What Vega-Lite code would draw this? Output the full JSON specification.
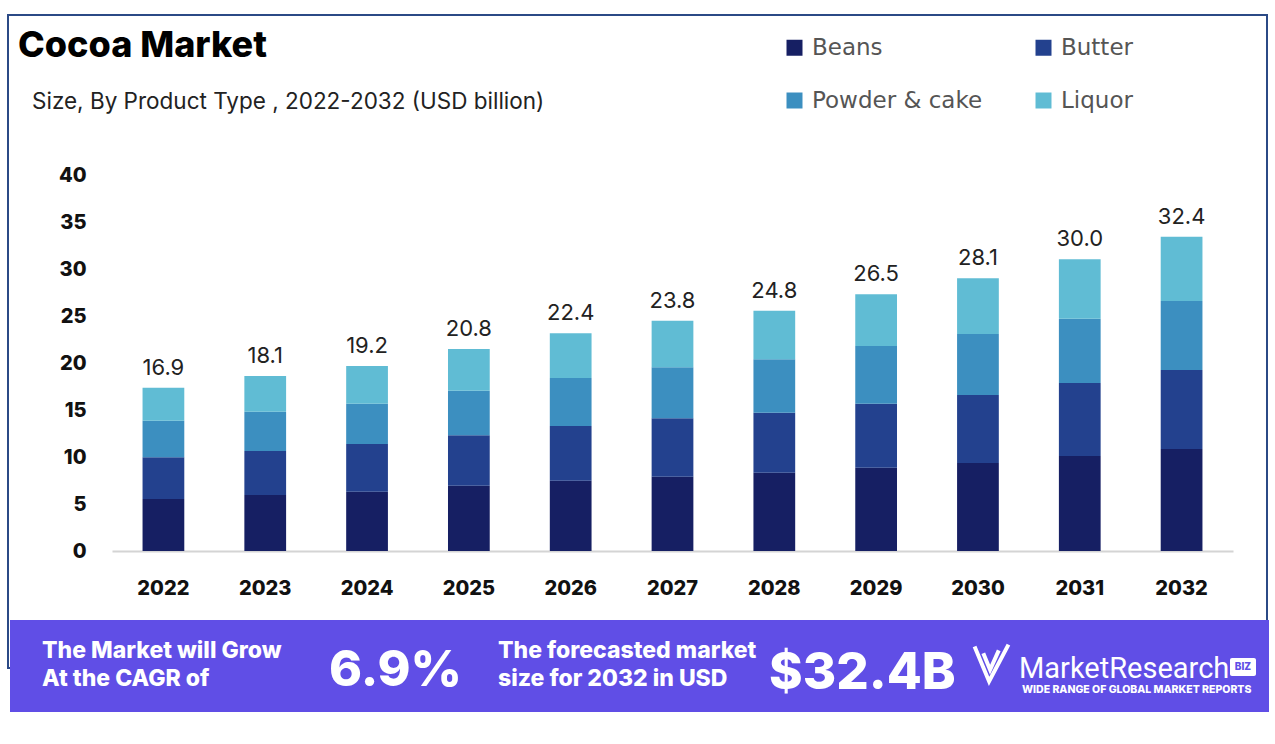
{
  "$schema": "https://vega.github.io/schema/vega-lite/v6.json",
  "autosize": "none",
  "width": 1121,
  "height": 376,
  "padding": {"left": 112, "top": 175, "right": 42, "bottom": 193},
  "background": "white",
  "config": {"view": {"stroke": null}, "font": "Inter"},
  "title": {
    "text": "Cocoa Market",
    "anchor": "start",
    "frame": "group",
    "dx": -94,
    "offset": -51,
    "fontSize": 36,
    "fontWeight": 800,
    "color": "#000000",
    "font": "Inter"
  },
  "datasets": {
    "segments": [
      {"year": "2022", "type": "Beans", "rank": 1, "value": 5.53},
      {"year": "2022", "type": "Butter", "rank": 2, "value": 4.44},
      {"year": "2022", "type": "Powder & cake", "rank": 3, "value": 3.89},
      {"year": "2022", "type": "Liquor", "rank": 4, "value": 3.51},
      {"year": "2023", "type": "Beans", "rank": 1, "value": 5.96},
      {"year": "2023", "type": "Butter", "rank": 2, "value": 4.68},
      {"year": "2023", "type": "Powder & cake", "rank": 3, "value": 4.18},
      {"year": "2023", "type": "Liquor", "rank": 4, "value": 3.80},
      {"year": "2024", "type": "Beans", "rank": 1, "value": 6.31},
      {"year": "2024", "type": "Butter", "rank": 2, "value": 5.07},
      {"year": "2024", "type": "Powder & cake", "rank": 3, "value": 4.29},
      {"year": "2024", "type": "Liquor", "rank": 4, "value": 4.01},
      {"year": "2025", "type": "Beans", "rank": 1, "value": 6.95},
      {"year": "2025", "type": "Butter", "rank": 2, "value": 5.36},
      {"year": "2025", "type": "Powder & cake", "rank": 3, "value": 4.74},
      {"year": "2025", "type": "Liquor", "rank": 4, "value": 4.44},
      {"year": "2026", "type": "Beans", "rank": 1, "value": 7.48},
      {"year": "2026", "type": "Butter", "rank": 2, "value": 5.82},
      {"year": "2026", "type": "Powder & cake", "rank": 3, "value": 5.11},
      {"year": "2026", "type": "Liquor", "rank": 4, "value": 4.76},
      {"year": "2027", "type": "Beans", "rank": 1, "value": 7.90},
      {"year": "2027", "type": "Butter", "rank": 2, "value": 6.21},
      {"year": "2027", "type": "Powder & cake", "rank": 3, "value": 5.43},
      {"year": "2027", "type": "Liquor", "rank": 4, "value": 4.96},
      {"year": "2028", "type": "Beans", "rank": 1, "value": 8.33},
      {"year": "2028", "type": "Butter", "rank": 2, "value": 6.38},
      {"year": "2028", "type": "Powder & cake", "rank": 3, "value": 5.68},
      {"year": "2028", "type": "Liquor", "rank": 4, "value": 5.17},
      {"year": "2029", "type": "Beans", "rank": 1, "value": 8.86},
      {"year": "2029", "type": "Butter", "rank": 2, "value": 6.81},
      {"year": "2029", "type": "Powder & cake", "rank": 3, "value": 6.14},
      {"year": "2029", "type": "Liquor", "rank": 4, "value": 5.50},
      {"year": "2030", "type": "Beans", "rank": 1, "value": 9.36},
      {"year": "2030", "type": "Butter", "rank": 2, "value": 7.23},
      {"year": "2030", "type": "Powder & cake", "rank": 3, "value": 6.49},
      {"year": "2030", "type": "Liquor", "rank": 4, "value": 5.93},
      {"year": "2031", "type": "Beans", "rank": 1, "value": 10.10},
      {"year": "2031", "type": "Butter", "rank": 2, "value": 7.77},
      {"year": "2031", "type": "Powder & cake", "rank": 3, "value": 6.84},
      {"year": "2031", "type": "Liquor", "rank": 4, "value": 6.32},
      {"year": "2032", "type": "Beans", "rank": 1, "value": 10.85},
      {"year": "2032", "type": "Butter", "rank": 2, "value": 8.40},
      {"year": "2032", "type": "Powder & cake", "rank": 3, "value": 7.34},
      {"year": "2032", "type": "Liquor", "rank": 4, "value": 6.84}
    ],
    "totals": [
      {"year": "2022", "label": 16.9},
      {"year": "2023", "label": 18.1},
      {"year": "2024", "label": 19.2},
      {"year": "2025", "label": 20.8},
      {"year": "2026", "label": 22.4},
      {"year": "2027", "label": 23.8},
      {"year": "2028", "label": 24.8},
      {"year": "2029", "label": 26.5},
      {"year": "2030", "label": 28.1},
      {"year": "2031", "label": 30.0},
      {"year": "2032", "label": 32.4}
    ]
  },
  "layer": [
    {
      "data": {"values": [{}]},
      "mark": {"type": "rect", "fill": null, "stroke": "#2b4a86", "strokeWidth": 2},
      "encoding": {
        "x": {"value": -104},
        "x2": {"value": 1155},
        "y": {"value": -160},
        "y2": {"value": 493}
      }
    },
    {
      "data": {"values": [{}]},
      "mark": {"type": "text", "text": "Size, By Product Type , 2022-2032 (USD billion)", "align": "left", "baseline": "alphabetic", "fontSize": 22.5, "font": "Inter", "color": "#222222"},
      "encoding": {"x": {"value": -80}, "y": {"value": -66}}
    },
    {
      "data": {"name": "segments"},
      "mark": {"type": "bar"},
      "encoding": {
        "x": {
          "field": "year",
          "type": "nominal",
          "scale": {"paddingInner": 0.59, "paddingOuter": 0.3},
          "axis": {
            "title": null,
            "labelAngle": 0,
            "labelFont": "Inter",
            "labelFontSize": 20,
            "labelFontWeight": 800,
            "labelColor": "#111111",
            "labelPadding": 27,
            "ticks": false,
            "domainColor": "#d4d4d4",
            "domainWidth": 2
          }
        },
        "y": {
          "field": "value",
          "type": "quantitative",
          "stack": "zero",
          "scale": {"domain": [0, 40], "nice": false},
          "axis": {
            "title": null,
            "values": [0, 5, 10, 15, 20, 25, 30, 35, 40],
            "labelFont": "Inter",
            "labelFontSize": 20,
            "labelFontWeight": 800,
            "labelColor": "#111111",
            "labelPadding": 26,
            "ticks": false,
            "domain": false,
            "grid": false
          }
        },
        "order": {"field": "rank", "type": "quantitative", "sort": "ascending"},
        "color": {
          "field": "type",
          "type": "nominal",
          "scale": {
            "domain": ["Beans", "Butter", "Powder & cake", "Liquor"],
            "range": ["#161f63", "#23418e", "#3c8fc0", "#60bcd4"]
          },
          "legend": {
            "title": null,
            "orient": "none",
            "legendX": 671,
            "legendY": -139,
            "direction": "horizontal",
            "columns": 2,
            "columnPadding": 49,
            "rowPadding": 29,
            "symbolType": "square",
            "symbolSize": 256,
            "symbolStrokeWidth": 0,
            "labelFont": "DejaVu Sans",
            "labelFontSize": 23,
            "labelColor": "#555555",
            "labelOffset": 6,
            "labelLimit": 400
          }
        }
      }
    },
    {
      "data": {"name": "segments"},
      "transform": [
        {"aggregate": [{"op": "sum", "field": "value", "as": "top"}], "groupby": ["year"]},
        {"lookup": "year", "from": {"data": {"name": "totals"}, "key": "year", "fields": ["label"]}}
      ],
      "mark": {"type": "text", "baseline": "alphabetic", "dy": -13, "fontSize": 22, "font": "Inter", "color": "#222222"},
      "encoding": {
        "x": {"field": "year", "type": "nominal"},
        "y": {"field": "top", "type": "quantitative"},
        "text": {"field": "label", "type": "quantitative", "format": ".1f"}
      }
    },
    {
      "data": {"values": [{}]},
      "mark": {"type": "rect", "fill": "#604ee6"},
      "encoding": {
        "x": {"value": -102},
        "x2": {"value": 1157},
        "y": {"value": 445},
        "y2": {"value": 537}
      }
    },
    {
      "data": {"values": [{}]},
      "mark": {"type": "text", "text": ["The Market will Grow", "At the CAGR of"], "align": "left", "baseline": "alphabetic", "lineHeight": 28, "fontSize": 23, "fontWeight": 800, "font": "Inter", "color": "white"},
      "encoding": {"x": {"value": -70}, "y": {"value": 483}}
    },
    {
      "data": {"values": [{}]},
      "mark": {"type": "text", "text": ["The forecasted market", "size for 2032 in USD"], "align": "left", "baseline": "alphabetic", "lineHeight": 28, "fontSize": 23, "fontWeight": 800, "font": "Inter", "color": "white"},
      "encoding": {"x": {"value": 386}, "y": {"value": 483}}
    },
    {
      "data": {"values": [{}]},
      "mark": {"type": "text", "text": "6.9%", "align": "left", "baseline": "alphabetic", "fontSize": 50, "fontWeight": 800, "font": "Inter", "color": "white"},
      "encoding": {"x": {"value": 217}, "y": {"value": 511}}
    },
    {
      "data": {"values": [{}]},
      "mark": {"type": "text", "text": "$32.4B", "align": "left", "baseline": "alphabetic", "fontSize": 51, "fontWeight": 800, "font": "Inter", "color": "white"},
      "encoding": {"x": {"value": 657}, "y": {"value": 514}}
    },
    {
      "data": {"values": [{}]},
      "mark": {"type": "point", "shape": "M-0.9,-0.9 L-0.15,0.9 L0.85,-1 M-0.45,-0.55 L-0.1,0.3 L0.35,-0.7", "filled": false, "stroke": "white", "strokeWidth": 4, "size": 1500, "opacity": 1},
      "encoding": {"x": {"value": 880}, "y": {"value": 489}}
    },
    {
      "data": {"values": [{}]},
      "mark": {"type": "text", "text": "MarketResearch", "align": "left", "baseline": "alphabetic", "fontSize": 29, "font": "Roboto", "color": "white"},
      "encoding": {"x": {"value": 907}, "y": {"value": 503}}
    },
    {
      "data": {"values": [{}]},
      "mark": {"type": "rect", "fill": "white", "cornerRadius": 2},
      "encoding": {"x": {"value": 1118}, "x2": {"value": 1144}, "y": {"value": 483}, "y2": {"value": 501}}
    },
    {
      "data": {"values": [{}]},
      "mark": {"type": "text", "text": "BIZ", "align": "center", "baseline": "middle", "fontSize": 10, "fontWeight": 800, "font": "Inter", "color": "#604ee6"},
      "encoding": {"x": {"value": 1131}, "y": {"value": 492}}
    },
    {
      "data": {"values": [{}]},
      "mark": {"type": "text", "text": "WIDE RANGE OF GLOBAL MARKET REPORTS", "align": "left", "baseline": "alphabetic", "fontSize": 10.5, "fontWeight": 800, "font": "Inter", "color": "white"},
      "encoding": {"x": {"value": 910}, "y": {"value": 518}}
    }
  ]
}
